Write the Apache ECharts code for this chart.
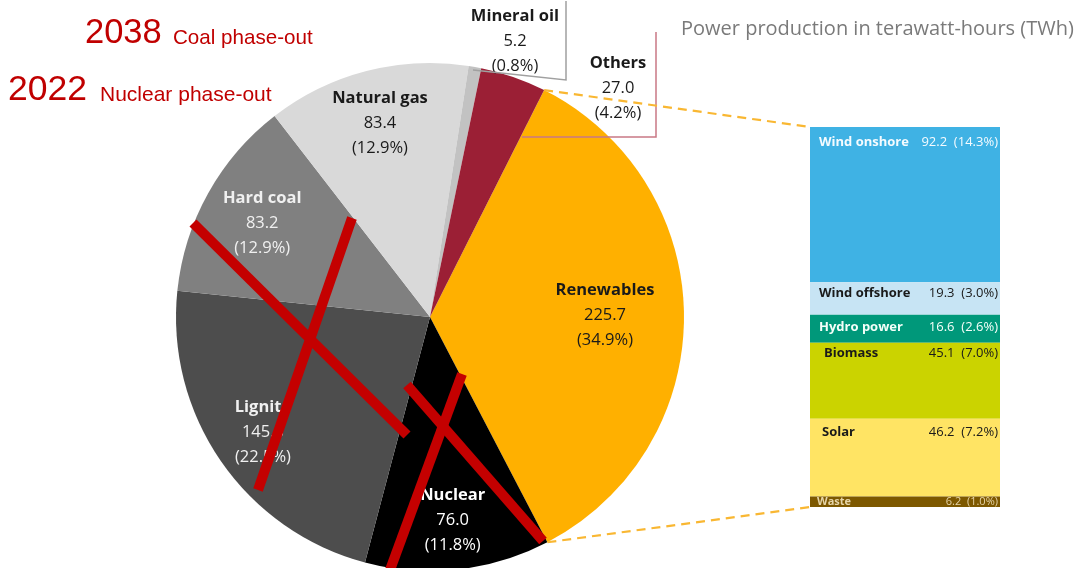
<!DOCTYPE html>
<html><head><meta charset="utf-8">
<script src="https://cdn.jsdelivr.net/npm/echarts@6/dist/echarts.min.js"></script>
<style>html,body{margin:0;padding:0;background:#fff}#c{width:1083px;height:568px}</style>
</head><body><div id="c"></div>
<script>
// ---- data ----
const pieNames = ['Renewables', 'Nuclear', 'Lignite', 'Hard coal', 'Natural gas', 'Mineral oil', 'Others'];
const pieValues = [225.7, 76.0, 145.5, 83.2, 83.4, 5.2, 27.0];
const renewNames = ['Wind onshore', 'Wind offshore', 'Hydro power', 'Biomass', 'Solar', 'Waste'];
const renewValues = [92.2, 19.3, 16.6, 45.1, 46.2, 6.2];
const titleText = 'Power production in terawatt-hours (TWh)';
const phaseYears = ['2038', '2022'];
const phaseTexts = ['Coal phase-out', 'Nuclear phase-out'];

// ---- styles ----
const pieColors = ['#FFB000', '#000000', '#4d4d4d', '#808080', '#d9d9d9', '#c2c2c2', '#9b1f35'];
const pieLabelColors = ['#1a1a1a', '#ffffff', '#f0f0f0', '#f0f0f0', '#1a1a1a', '#1a1a1a', '#1a1a1a'];
const renewColors = ['#3fb2e4', '#c7e4f4', '#00987a', '#cbd300', '#ffe464', '#7d5800'];
const renewLabelColors = ['#f4fbff', '#1a1a1a', '#f4fff9', '#1a1a1a', '#1a1a1a', '#e6d5a8'];
const renewLabelPos = [[9, 8], [9, 3], [9, 5], [14, 3], [12, 6], [7, -1]];
const FONT = '"Open Sans", sans-serif';

const CX = 430, CY = 317, R = 254, START = 63.3;
const GRID = {left: 810, top: 127, width: 190, height: 380};

const total = pieValues.reduce((a, b) => a + b, 0);
const rTotal = renewValues.reduce((a, b) => a + b, 0);
const pct = v => (v / total * 100).toFixed(1);

// slice angles (deg, counter-clockwise from 3 o'clock), drawn clockwise
const starts = [], ends = [];
{ let a = START; pieValues.forEach(v => { starts.push(a); a -= 360 * v / total; ends.push(a); }); }
const labelRadius = [175, 205, 203, 192, 200];
const outsideLabel = {5: [515, 41], 6: [618, 88]};
const labelPos = pieValues.map((v, i) => {
  if (outsideLabel[i]) return outsideLabel[i];
  const m = (starts[i] + ends[i]) / 2 * Math.PI / 180;
  return [CX + labelRadius[i] * Math.cos(m), CY - labelRadius[i] * Math.sin(m)];
});
const edge = deg => [CX + R * Math.cos(deg * Math.PI / 180), CY - R * Math.sin(deg * Math.PI / 180)];
const pA = edge(starts[0]), pB = edge(ends[0]);

const chart = echarts.init(document.getElementById('c'), null, {renderer: 'canvas'});

const redX = [
  [193, 223, 407, 435], [352, 218, 258, 490],
  [407, 385, 543, 541], [462, 374, 390, 570]
];

chart.setOption({
  animation: false,
  backgroundColor: '#ffffff',
  grid: Object.assign({containLabel: false}, GRID),
  xAxis: {type: 'category', data: ['Renewables'], show: false},
  yAxis: {type: 'value', min: 0, max: rTotal, inverse: true, show: false},
  series: [
    {
      type: 'pie',
      center: [CX, CY],
      radius: [0, R],
      startAngle: START,
      clockwise: true,
      avoidLabelOverlap: false,
      silent: true,
      z: 2,
      labelLine: {show: false},
      label: {
        show: true,
        position: 'inside',
        textBorderWidth: 0,
        formatter: p => `{n|${p.name}}\n{v|${p.value.toFixed(1)}}\n{v|(${pct(p.value)}%)}`,
        rich: {
          n: {fontFamily: FONT, fontWeight: 'bold', fontSize: 16.5, lineHeight: 25},
          v: {fontFamily: FONT, fontSize: 16.5, lineHeight: 25}
        }
      },
      labelLayout: p => ({x: labelPos[p.dataIndex][0], y: labelPos[p.dataIndex][1], align: 'center', verticalAlign: 'middle'}),
      data: pieNames.map((n, i) => ({
        name: n, value: pieValues[i],
        itemStyle: {color: pieColors[i]},
        label: {color: pieLabelColors[i]}
      }))
    },
    ...renewNames.map((n, i) => ({
      type: 'bar',
      name: n,
      stack: 'ren',
      barWidth: '100%',
      silent: true,
      itemStyle: {color: renewColors[i]},
      label: {
        show: true,
        position: renewLabelPos[i],
        color: renewLabelColors[i],
        formatter: () => `{n|${n}}{v|${renewValues[i].toFixed(1)}  (${pct(renewValues[i])}%)}`,
        rich: {
          n: {fontFamily: FONT, fontWeight: 'bold', fontSize: i === 5 ? 11 : 13, width: 179 - 80 - (renewLabelPos[i][0] - 9), lineHeight: i === 5 ? 12 : 15},
          v: {fontFamily: FONT, fontSize: i === 5 ? 11 : 13, width: 80, align: 'right', lineHeight: i === 5 ? 12 : 15}
        }
      },
      data: [renewValues[i]]
    }))
  ],
  graphic: [
    {type: 'text', z: 100, style: {text: titleText, x: 681, y: 29, fill: '#7a7a7a', font: '20px "Open Sans"', verticalAlign: 'middle'}},
    {type: 'text', z: 100, style: {text: phaseYears[0], x: 85, y: 33.5, fill: '#c00000', font: '34.5px "Liberation Sans"', verticalAlign: 'middle'}},
    {type: 'text', z: 100, style: {text: phaseTexts[0], x: 173, y: 38.5, fill: '#c00000', font: '20.6px "Liberation Sans"', verticalAlign: 'middle'}},
    {type: 'text', z: 100, style: {text: phaseYears[1], x: 8, y: 90, fill: '#c00000', font: '35.5px "Liberation Sans"', verticalAlign: 'middle'}},
    {type: 'text', z: 100, style: {text: phaseTexts[1], x: 100, y: 95.5, fill: '#c00000', font: '21px "Liberation Sans"', verticalAlign: 'middle'}},
    // callout boxes
    {type: 'polyline', z: 50, shape: {points: [[473, 70], [566, 80], [566, 1]]}, style: {stroke: '#a0a0a0', lineWidth: 1.5, fill: null}},
    {type: 'polyline', z: 50, shape: {points: [[522, 137], [656, 137], [656, 32]]}, style: {stroke: '#c97885', lineWidth: 1.5, fill: null}},
    // connectors
    {type: 'line', z: 50, shape: {x1: pA[0], y1: pA[1], x2: GRID.left, y2: GRID.top}, style: {stroke: '#f9b732', lineWidth: 2.2, lineDash: [9, 6]}},
    {type: 'line', z: 50, shape: {x1: pB[0], y1: pB[1], x2: GRID.left, y2: GRID.top + GRID.height}, style: {stroke: '#f9b732', lineWidth: 2.2, lineDash: [9, 6]}},
    // red crosses
    ...redX.map(l => ({type: 'line', z: 100, shape: {x1: l[0], y1: l[1], x2: l[2], y2: l[3]}, style: {stroke: '#c40000', lineWidth: 10}}))
  ]
});
</script></body></html>
